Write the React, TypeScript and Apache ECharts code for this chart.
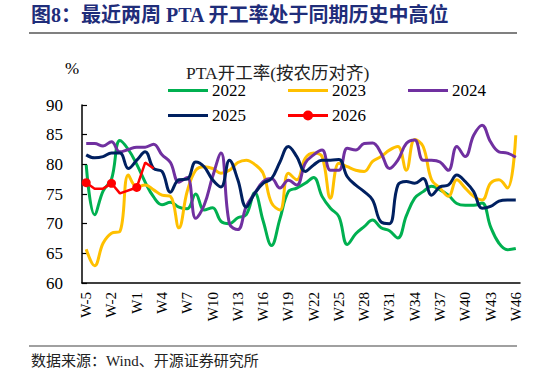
import React, { useEffect, useRef } from "react";
import * as echarts from "echarts";

const weeks: string[] = ["W-5", "W-4", "W-3", "W-2", "W-1", "W0"];
for (let i = 1; i <= 46; i++) weeks.push("W" + i);

const y2022 = [79.9, 71.5, 75.5, 77.5, 84.0, 82.5, 80.0, 77.0, 74.5, 73.2, 73.6, 72.8, 72.5, 75.0, 72.3, 72.7, 70.4, 70.0, 71.0, 71.5, 75.2, 70.5, 66.3, 70.8, 75.4, 76.0, 76.8, 77.8, 74.6, 72.6, 71.2, 66.5, 68.3, 69.5, 70.6, 69.3, 68.8, 67.6, 71.3, 74.3, 75.4, 76.3, 75.7, 74.8, 73.4, 73.1, 73.1, 73.5, 69.5, 66.7, 65.6, 65.8];
const y2023 = [65.7, 62.9, 66.7, 68.4, 68.7, 78.2, 76.2, 76.5, 75.7, 74.8, 74.6, 69.3, 75.5, 79.0, 79.6, 79.3, 78.5, 79.0, 80.3, 80.7, 80.0, 78.5, 73.5, 72.3, 78.5, 77.4, 81.0, 81.9, 81.3, 74.3, 80.2, 79.6, 79.0, 78.8, 80.5, 81.3, 82.4, 83.0, 79.0, 84.2, 83.0, 77.4, 76.0, 74.6, 77.4, 76.0, 74.6, 74.0, 76.8, 77.4, 76.0, 84.9];
const y2024 = [83.5, 83.5, 83.1, 83.8, 82.1, 82.5, 82.9, 82.9, 83.4, 81.6, 80.3, 77.0, 77.8, 70.9, 73.1, 77.9, 81.9, 70.0, 69.0, 72.9, 75.1, 77.1, 77.6, 76.0, 77.3, 76.5, 80.2, 81.6, 82.4, 79.0, 79.0, 82.7, 82.4, 83.5, 83.6, 81.9, 79.3, 80.7, 83.5, 84.1, 80.7, 80.7, 80.4, 79.0, 83.0, 81.3, 84.9, 86.6, 83.8, 82.1, 81.9, 81.2];
const y2025 = [81.6, 81.1, 81.3, 81.9, 81.9, 79.3, 80.7, 82.1, 79.3, 78.8, 75.3, 77.4, 77.5, 80.4, 79.6, 77.4, 76.2, 80.7, 77.4, 72.8, 75.1, 76.8, 77.6, 80.4, 83.0, 81.3, 78.8, 79.9, 80.7, 80.7, 80.8, 77.9, 76.5, 75.4, 74.0, 70.3, 70.0, 76.5, 77.1, 76.8, 77.6, 74.8, 76.2, 76.5, 78.2, 77.1, 75.4, 72.6, 72.9, 73.8, 74.0, 74.0];
const y2026: (number | null)[] = [76.9, 75.9, 75.9, 76.8, 75.1, null, 76.1, 80.3, 79.3];

const yTicks = { min: 60, max: 90, interval: 5 };

const SERIF = "'Liberation Serif', 'Times New Roman', 'Noto Sans CJK SC', serif";
const LINE_ICON = "path://M0,0 L40,0 L40,3 L0,3 Z";
const DOT_ICON = "path://M0,5.5 L40,5.5 L40,8.5 L0,8.5 Z M20,2 A5,5 0 1,1 20,12 A5,5 0 1,1 20,2 Z";

export default function App() {
  const ref = useRef<HTMLDivElement>(null);
  useEffect(() => {
    if (!ref.current) return;
    const chart = echarts.init(ref.current, undefined, { renderer: "svg" });
    const lineSeries = (name: string, data: (number | null)[], color: string) => ({
      name,
      type: "line",
      data,
      smooth: 0.4,
      symbol: "none",
      showSymbol: false,
      lineStyle: { color, width: 3 },
      itemStyle: { color },
    });
    const legendText = { fontSize: 17, lineHeight: 14, fontFamily: SERIF, color: "#000", padding: [0, 0, 0, -1] };
    chart.setOption({
      animation: false,
      grid: { left: 82, right: 26, top: 105, bottom: 93 },
      title: {
        text: "PTA开工率(按农历对齐)",
        left: 181,
        top: 59,
        textStyle: { fontFamily: SERIF, fontSize: 17.5, lineHeight: 17, fontWeight: "normal", color: "#222" },
      },
      legend: [
        {
          data: [
            { name: "2022", icon: LINE_ICON },
            { name: "2023", icon: LINE_ICON },
            { name: "2024", icon: LINE_ICON },
          ],
          left: 163,
          top: 77,
          itemWidth: 40,
          itemHeight: 14,
          itemGap: 42,
          textStyle: legendText,
        },
        {
          data: [
            { name: "2025", icon: LINE_ICON },
            { name: "2026", icon: DOT_ICON },
          ],
          left: 163,
          top: 102,
          itemWidth: 40,
          itemHeight: 14,
          itemGap: 42,
          textStyle: legendText,
        },
      ],
      xAxis: {
        type: "category",
        data: weeks,
        boundaryGap: true,
        axisLine: { lineStyle: { color: "#000", width: 1.5 } },
        axisTick: { inside: true, interval: 4, length: 5, lineStyle: { color: "#000", width: 1.2 } },
        axisLabel: { interval: 2, rotate: 90, fontSize: 15, fontFamily: SERIF, color: "#000", margin: 9 },
      },
      yAxis: {
        type: "value",
        min: yTicks.min,
        max: yTicks.max,
        interval: yTicks.interval,
        axisLine: { show: true, lineStyle: { color: "#000", width: 1.5 } },
        axisTick: { show: true, inside: true, length: 5, lineStyle: { color: "#000", width: 1.2 } },
        splitLine: { show: false },
        axisLabel: { fontSize: 17, fontFamily: SERIF, color: "#000", margin: 19 },
      },
      graphic: [
        {
          type: "text",
          left: 31,
          top: 5,
          style: {
            text: "图8：最近两周 PTA 开工率处于同期历史中高位",
            fontSize: 20,
            fontWeight: "bold",
            fontFamily: SERIF,
            fill: "#1F2D7A",
          },
        },
        { type: "line", shape: { x1: 29, y1: 33, x2: 517, y2: 33 }, style: { stroke: "#808080", lineWidth: 2 } },
        { type: "line", shape: { x1: 29, y1: 346, x2: 517, y2: 346 }, style: { stroke: "#808080", lineWidth: 1.5 } },
        {
          type: "text",
          left: 31,
          top: 353,
          style: { text: "数据来源：Wind、开源证券研究所", fontSize: 15, fontFamily: SERIF, fill: "#222" },
        },
        {
          type: "text",
          left: 65,
          top: 60,
          style: { text: "%", fontSize: 17, fontFamily: SERIF, fill: "#000" },
        },
      ],
      series: [
        lineSeries("2022", y2022, "#00B050"),
        lineSeries("2023", y2023, "#FFC000"),
        lineSeries("2024", y2024, "#7030A0"),
        lineSeries("2025", y2025, "#002060"),
        {
          name: "2026",
          type: "line",
          data: y2026,
          connectNulls: true,
          symbol: "circle",
          symbolSize: 9,
          showSymbol: true,
          lineStyle: { color: "#FF0000", width: 2.5 },
          itemStyle: { color: "#FF0000" },
        },
      ],
    });
    return () => chart.dispose();
  }, []);
  return (
    <div
      ref={ref}
      style={{ position: "fixed", left: 0, top: 0, width: 546, height: 376, background: "#fff" }}
    />
  );
}
